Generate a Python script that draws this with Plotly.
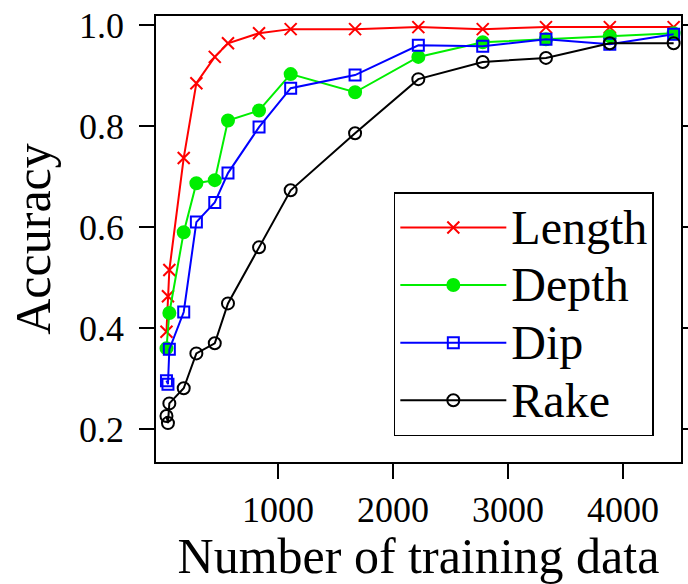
import plotly.graph_objects as go

# Data
n_train = [30, 43, 55, 180, 290, 450, 565, 835, 1110, 1670, 2220, 2780, 3330, 3885, 4440]
acc_length = [0.393, 0.463, 0.515, 0.737, 0.885, 0.937, 0.964, 0.984, 0.992, 0.992, 0.996, 0.992, 0.996, 0.996, 0.996]
acc_depth = [0.360, None, 0.430, 0.590, 0.687, 0.693, 0.811, 0.831, 0.903, 0.867, 0.937, 0.966, 0.972, 0.978, 0.984]
acc_dip = [0.296, 0.289, 0.358, 0.432, 0.610, 0.649, 0.707, 0.798, 0.875, 0.901, 0.960, 0.958, 0.972, 0.962, 0.982]
acc_rake = [0.226, 0.212, 0.251, 0.281, 0.350, 0.370, 0.449, 0.560, 0.673, 0.786, 0.893, 0.927, 0.935, 0.964, 0.964]

x_ticks = [1000, 2000, 3000, 4000]
y_ticks = [0.2, 0.4, 0.6, 0.8, 1.0]

FONT = "Liberation Serif"

series = [
    ("Length", acc_length, "#ff0000", "x-thin-open", 12),
    ("Depth", acc_depth, "#00ee00", "circle", 12),
    ("Dip", acc_dip, "#0000ff", "square-open", 11),
    ("Rake", acc_rake, "#000000", "circle-open", 12),
]

fig = go.Figure()
for name, ys, color, sym, size in series:
    fig.add_trace(go.Scatter(
        x=n_train, y=ys, name=f"<span style='font-size:48px'>{name}</span>",
        mode="lines+markers",
        connectgaps=True,
        line=dict(color=color, width=2),
        marker=dict(symbol=sym, size=size, color=color,
                    line=dict(color=color, width=2)),
    ))

fig.update_layout(
    width=688, height=584,
    margin=dict(l=156, r=7, t=16, b=122, autoexpand=False),
    paper_bgcolor="white", plot_bgcolor="white",
    font=dict(family=FONT, color="black", size=36),
    showlegend=True,
    legend=dict(
        x=0.453, y=0.605, xanchor="left", yanchor="top",
        bordercolor="black", borderwidth=1.5, bgcolor="white",
        font=dict(family=FONT, size=42, color="black"),
        itemwidth=106, tracegroupgap=0,
    ),
    xaxis=dict(
        range=[-61, 4504], tickvals=x_ticks, ticktext=[str(v) for v in x_ticks],
        ticks="outside", ticklen=15, tickwidth=1.5, tickcolor="black",
        showline=True, linecolor="black", linewidth=1.5, mirror=True,
        showgrid=False, zeroline=False, automargin=False,
        tickfont=dict(family=FONT, size=36), ticklabelstandoff=0,
        title=dict(text="Number of training data", font=dict(family=FONT, size=50), standoff=26),
    ),
    yaxis=dict(
        range=[0.135, 1.018], tickvals=y_ticks, ticktext=[f"{v:.1f}" for v in y_ticks],
        ticks="outside", ticklen=15, tickwidth=1.5, tickcolor="black",
        showline=True, linecolor="black", linewidth=1.5, mirror="ticks",
        showgrid=False, zeroline=False, automargin=False,
        tickfont=dict(family=FONT, size=36), ticklabelstandoff=8,
        title=dict(text="Accuracy", font=dict(family=FONT, size=50), standoff=13),
    ),
)

fig.write_html("out.html", config={"displayModeBar": False},
               post_script="document.body.style.margin='0px';")
